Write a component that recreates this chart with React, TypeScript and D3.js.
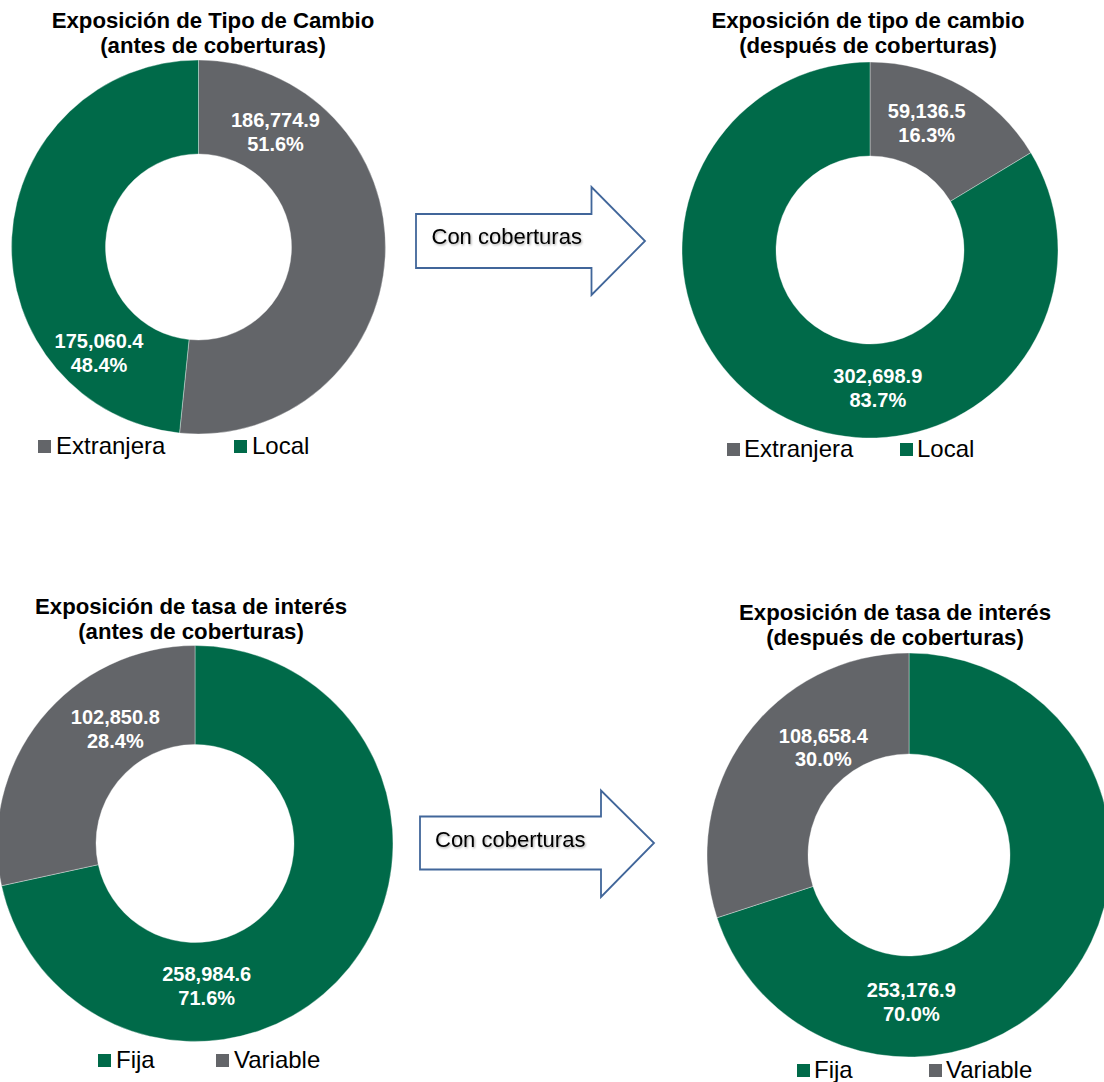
import React from "react";
import * as d3 from "d3";

// ---- Data ----
const fxCategories = ["Extranjera", "Local"];
const fxBefore = [186774.9, 175060.4];
const fxAfter = [59136.5, 302698.9];

const rateCategories = ["Fija", "Variable"];
const rateBefore = [258984.6, 102850.8];
const rateAfter = [253176.9, 108658.4];

const titles = [
  ["Exposición de Tipo de Cambio", "(antes de coberturas)"],
  ["Exposición de tipo de cambio", "(después de coberturas)"],
  ["Exposición de tasa de interés", "(antes de coberturas)"],
  ["Exposición de tasa de interés", "(después de coberturas)"],
];
const arrowLabel = "Con coberturas";

// ---- Styles ----
const GREEN = "#006A49";
const GREY = "#636569";
const colorOf: Record<string, string> = {
  Extranjera: GREY,
  Local: GREEN,
  Fija: GREEN,
  Variable: GREY,
};
const FONT = "'Liberation Sans', Arial, Helvetica, sans-serif";

// ---- Layout ----
type Layout = {
  cx: number; cy: number; r: number; ir: number;
  titleX: number; titleY: number;
  labelOff: [number, number][];
  legendY: number; legendX: [number, number][]; // [squareX, textX]
};
const layouts: Layout[] = [
  { cx: 198.5, cy: 247, r: 187, ir: 93, titleX: 213, titleY: 28,
    labelOff: [[77, -120], [-99.5, 101]], legendY: 454, legendX: [[38, 56], [234, 252]] },
  { cx: 870, cy: 250, r: 188, ir: 94, titleX: 868, titleY: 28,
    labelOff: [[56.7, -132], [7.8, 133]], legendY: 457, legendX: [[727, 744], [900, 917]] },
  { cx: 195, cy: 843.5, r: 198, ir: 99, titleX: 191, titleY: 614,
    labelOff: [[11.7, 137.5], [-79.7, -119.5]], legendY: 1068, legendX: [[98, 116], [216, 234]] },
  { cx: 909, cy: 855, r: 202, ir: 101, titleX: 895, titleY: 620,
    labelOff: [[2.3, 142.3], [-85.7, -112.3]], legendY: 1078, legendX: [[797, 814], [929, 946]] },
];
const arrows = [
  { x0: 416, yTop: 214, yBot: 268, hx: 591.5, hTop: 187, hBot: 295, tip: 645, textX: 431.5, textY: 243.5 },
  { x0: 420, yTop: 816.5, yBot: 869.5, hx: 601, hTop: 790.5, hBot: 897, tip: 654, textX: 435, textY: 846.5 },
];

const fmtVal = d3.format(",.1f");
const fmtPct = d3.format(".1%");

function Donut({ cats, values, title, lay }: { cats: string[]; values: number[]; title: string[]; lay: Layout }) {
  const total = d3.sum(values);
  const pie = d3.pie<number>().sort(null).value((d) => d);
  const arcs = pie(values);
  const arc = d3.arc<d3.PieArcDatum<number>>().innerRadius(lay.ir).outerRadius(lay.r);
  return (
    <g>
      <text x={lay.titleX} y={lay.titleY} textAnchor="middle" fontFamily={FONT} fontWeight="bold" fontSize={22.2} fill="#000">
        <tspan x={lay.titleX}>{title[0]}</tspan>
        <tspan x={lay.titleX} dy={25}>{title[1]}</tspan>
      </text>
      <g transform={`translate(${lay.cx},${lay.cy})`}>
        {arcs.map((a, i) => (
          <path key={i} d={arc(a) || ""} fill={colorOf[cats[i]]} stroke="#ffffff" strokeWidth={0.6} strokeOpacity={0.6} />
        ))}
        {arcs.map((a, i) => {
          const [dx, dy] = lay.labelOff[i];
          return (
            <text key={"l" + i} x={dx} y={dy} textAnchor="middle" fontFamily={FONT} fontWeight="bold" fontSize={20} fill="#ffffff">
              <tspan x={dx}>{fmtVal(values[i])}</tspan>
              <tspan x={dx} dy={23.5}>{fmtPct(values[i] / total)}</tspan>
            </text>
          );
        })}
      </g>
      {cats.map((c, i) => (
        <g key={"lg" + i}>
          <rect x={lay.legendX[i][0]} y={lay.legendY - 14} width={13} height={13} fill={colorOf[c]} />
          <text x={lay.legendX[i][1]} y={lay.legendY} fontFamily={FONT} fontSize={24} fill="#000">{c}</text>
        </g>
      ))}
    </g>
  );
}

function Arrow({ a }: { a: typeof arrows[number] }) {
  const midY = (a.yTop + a.yBot) / 2;
  const pts: [number, number][] = [
    [a.x0, a.yTop], [a.hx, a.yTop], [a.hx, a.hTop], [a.tip, midY], [a.hx, a.hBot], [a.hx, a.yBot], [a.x0, a.yBot],
  ];
  const line = d3.line().curve(d3.curveLinearClosed);
  return (
    <g>
      <path d={line(pts) || ""} fill="#ffffff" stroke="#41669A" strokeWidth={1.8} strokeLinejoin="miter" />
      <text x={a.textX} y={a.textY} fontFamily={FONT} fontSize={22} fill="#000" filter="url(#tshadow)">{arrowLabel}</text>
    </g>
  );
}

export default function App() {
  const sets = [
    { cats: fxCategories, values: fxBefore },
    { cats: fxCategories, values: fxAfter },
    { cats: rateCategories, values: rateBefore },
    { cats: rateCategories, values: rateAfter },
  ];
  return (
    <svg width={1104} height={1082} viewBox="0 0 1104 1082"
      style={{ position: "absolute", left: 0, top: 0, display: "block", background: "#fff" }}>
      <defs>
        <filter id="tshadow" x="-10%" y="-30%" width="120%" height="160%">
          <feDropShadow dx={1} dy={1.2} stdDeviation={0.9} floodColor="#000" floodOpacity={0.35} />
        </filter>
      </defs>
      <rect width={1104} height={1082} fill="#fff" />
      {sets.map((s, i) => (
        <Donut key={i} cats={s.cats} values={s.values} title={titles[i]} lay={layouts[i]} />
      ))}
      {arrows.map((a, i) => <Arrow key={i} a={a} />)}
    </svg>
  );
}
